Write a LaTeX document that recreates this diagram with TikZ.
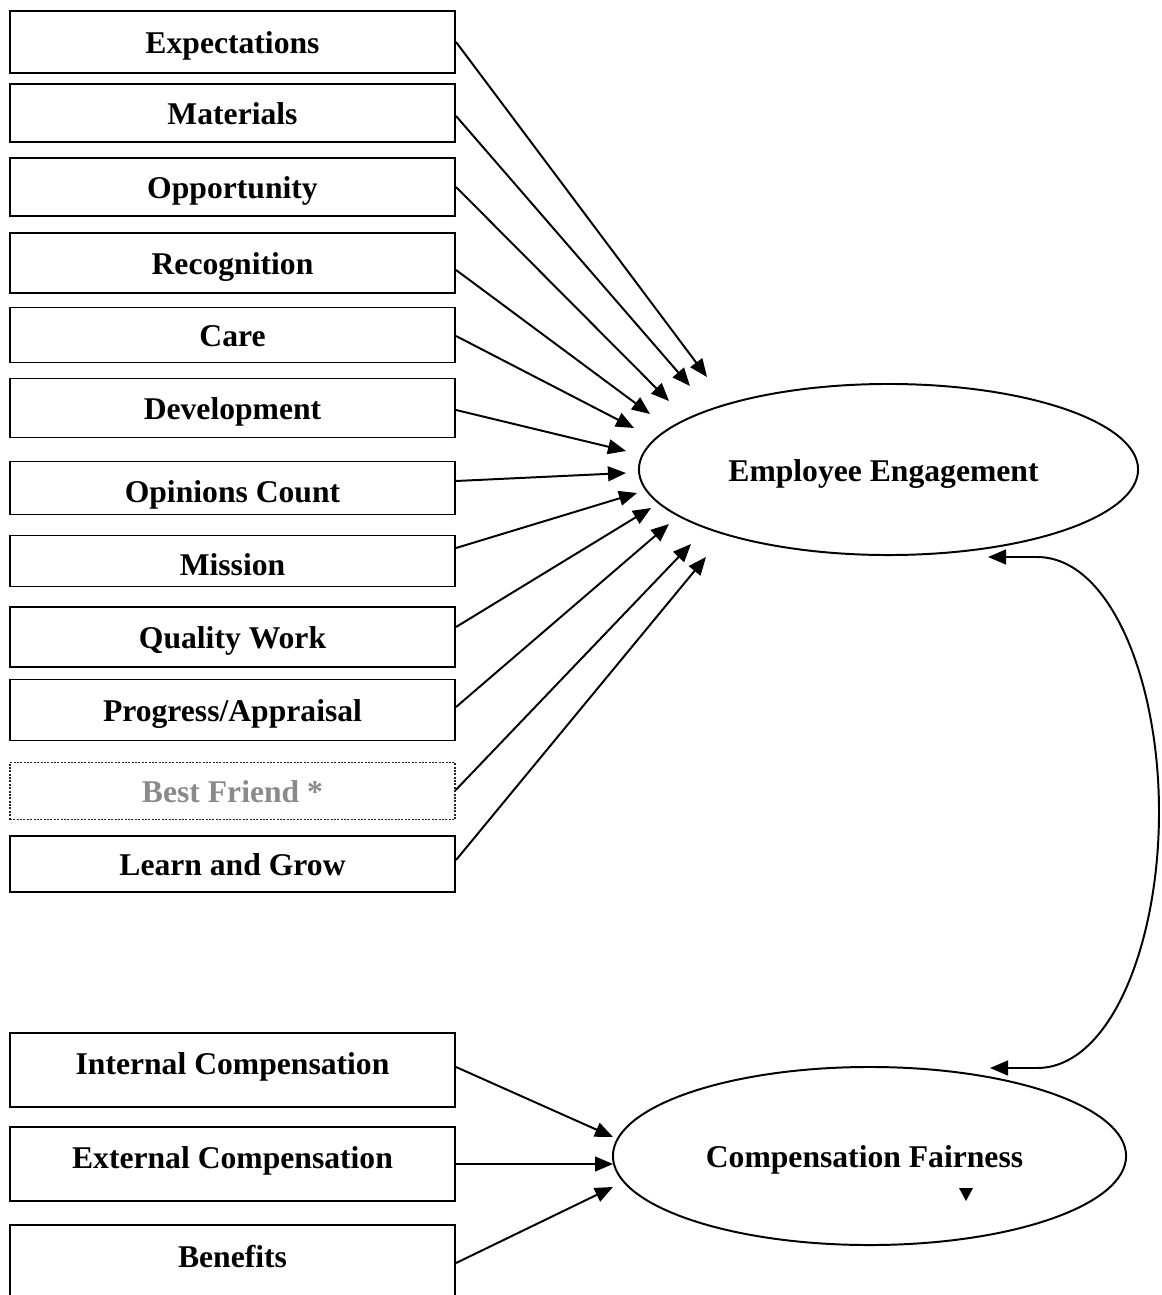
\documentclass[tikz,border=0pt]{standalone}
\usepackage{fontspec}
\setmainfont{Liberation Serif}
\usetikzlibrary{arrows.meta, shapes.geometric}
\definecolor{faintgray}{HTML}{8A8A8A}

\begin{document}
\begin{tikzpicture}[x=0.025cm, y=-0.025cm,
  font=\fontsize{22.5}{27}\selectfont\bfseries,
  box/.style={draw, line width=1.4pt, rectangle, minimum width=11.125cm, inner sep=0pt, text height=17pt, text depth=0pt},
  plain/.style={},
  lowtext/.style={text height=20.5pt},
  hightext/.style={text depth=10.5pt},
  faint/.style={draw=black!85, densely dotted, line width=1pt, text=faintgray},
  latent/.style={draw, ellipse, line width=1.4pt, inner sep=0pt, text height=17pt, text depth=0pt},
  arr/.style={-{Triangle[length=0.45cm, width=0.37cm]}, line width=1.4pt},
  dblarr/.style={{Triangle[length=0.45cm, width=0.37cm]}-{Triangle[length=0.45cm, width=0.37cm]}, line width=1.4pt}]
\useasboundingbox (0,0) rectangle (1162,1295);

% indicator boxes
\foreach \n/\y/\h/\s/\t in {exp/42/62/plain/Expectations, mat/113/58/plain/Materials,
  opp/187/58/plain/Opportunity, rec/263/60/plain/Recognition, care/335/55/plain/Care,
  dev/408/59/plain/Development, opin/488/53/lowtext/Opinions Count, mis/561/51/lowtext/Mission,
  qual/637/60/plain/Quality Work, prog/710/61/plain/{Progress/Appraisal},
  best/791/57/faint/Best Friend *, learn/864/56/plain/Learn and Grow,
  int/1070/74/hightext/Internal Compensation, ext/1164/74/hightext/External Compensation,
  ben/1263/76/hightext/Benefits} {
  \node[box, minimum height=\h*0.025cm, \s] (\n) at (232.5,\y) {\t};
}

% latent variables
\node[latent, minimum width=12.475cm, minimum height=4.275cm] (eng) at (888.5,469.5) {\kern-0.25cm Employee Engagement};
\node[latent, minimum width=12.825cm, minimum height=4.45cm] (fair) at (869.5,1156) {\kern-0.25cm Compensation Fairness};

% loadings
\foreach \n/\dy/\x/\y in {exp/0/707/377, mat/-3/690/386, opp/0/669/401, rec/-7/650/414,
  care/-1/634/428, dev/-2/626/451, opin/7/626/473, mis/13/637/493, qual/10/651/508,
  prog/3/669/524, best/1/691/544, learn/4/706/557,
  int/3/613/1137, ext/0/613/1164, ben/0/613/1187} {
  \coordinate (t-\n) at (\x,\y);
  \draw[arr] ([yshift=\dy*0.025cm]\n.east) -- (t-\n);
}

% covariance
\coordinate (c-eng) at (988,557);
\coordinate (c-fair) at (990,1068);
\draw[dblarr] (c-eng) -- (1037,557) .. controls (1110,557) and (1159,680) .. (1159,812)
  .. controls (1159,945) and (1110,1068) .. (1037,1068) -- (c-fair);

\fill (959,1188) -- (973,1188) -- (966,1201) -- cycle;
\end{tikzpicture}
\end{document}
